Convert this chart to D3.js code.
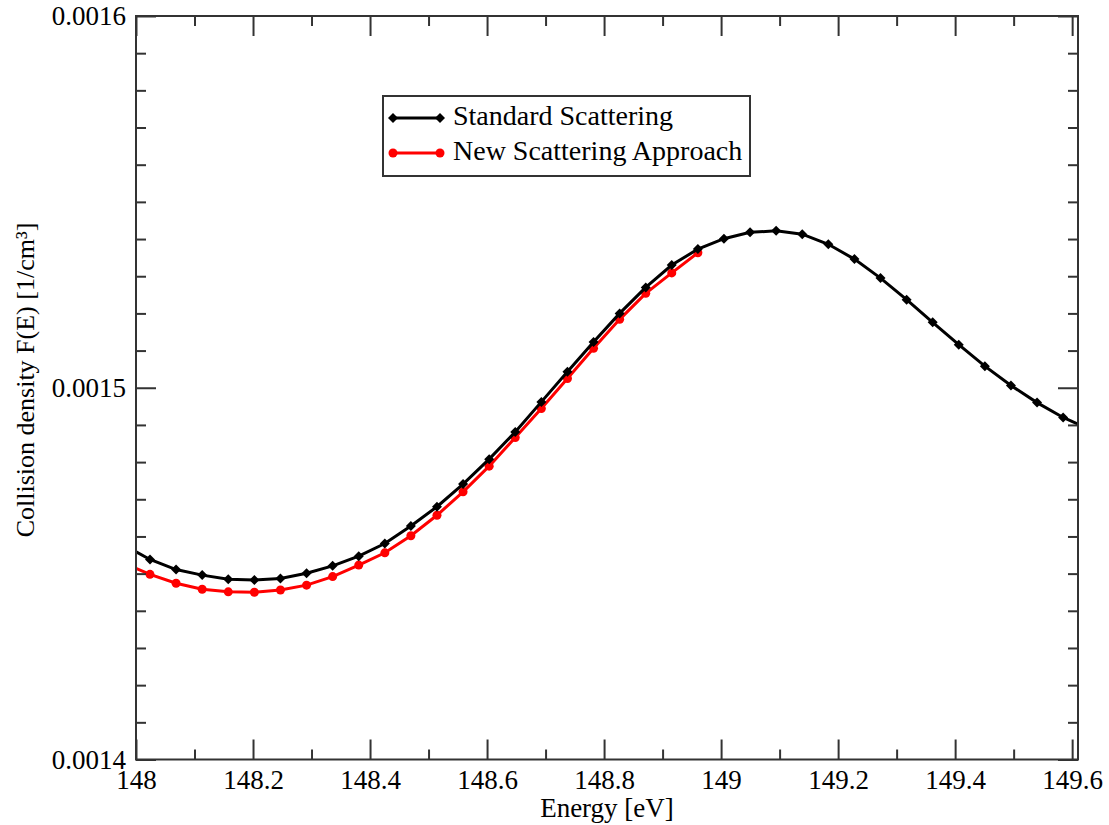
<!DOCTYPE html>
<html>
<head>
<meta charset="utf-8">
<script src="https://cdn.jsdelivr.net/npm/d3@7"></script>
<style>
  body { margin: 0; background: #fff; }
  svg text { font-family: "Liberation Serif", "Times New Roman", Times, "DejaVu Serif", serif !important; fill: #000; }
</style>
</head>
<body>
<div id="graph"></div>
<script>
var svgWidth = 1109;
var svgHeight = 825;

// energies of the standard run [eV]
var energyStd = [147.9793, 148.0239, 148.0685, 148.1131, 148.1577, 148.2023, 148.2469, 148.2915,
  148.3361, 148.3807, 148.4253, 148.4698, 148.5144, 148.5590, 148.6036, 148.6482, 148.6928,
  148.7374, 148.7820, 148.8266, 148.8712, 148.9157, 148.9603, 149.0049, 149.0495, 149.0941,
  149.1387, 149.1833, 149.2279, 149.2725, 149.3171, 149.3616, 149.4062, 149.4508, 149.4954,
  149.5400, 149.5846, 149.6292];

var densityStd = [0.0014577, 0.0014538, 0.0014511, 0.0014496, 0.0014485, 0.0014483, 0.0014487,
  0.0014501, 0.0014521, 0.0014547, 0.0014581, 0.0014628, 0.0014680, 0.0014741, 0.0014808,
  0.0014881, 0.0014962, 0.0015043, 0.0015123, 0.0015200, 0.0015270, 0.0015330, 0.0015373,
  0.0015401, 0.0015418, 0.0015422, 0.0015413, 0.0015386, 0.0015346, 0.0015295, 0.0015237,
  0.0015176, 0.0015116, 0.0015058, 0.0015006, 0.0014960, 0.0014920, 0.0014889];

// new approach only goes up to ~148.96 eV
var energyNew = [147.9793, 148.0239, 148.0685, 148.1131, 148.1577, 148.2023, 148.2469, 148.2915,
  148.3361, 148.3807, 148.4253, 148.4698, 148.5144, 148.5590, 148.6036, 148.6482, 148.6928,
  148.7374, 148.7820, 148.8266, 148.8712, 148.9157, 148.9603];

var densityNew = [0.0014528, 0.0014498, 0.0014474, 0.0014458, 0.0014451, 0.0014450, 0.0014456,
  0.0014469, 0.0014492, 0.0014523, 0.0014556, 0.0014602, 0.0014657, 0.0014720, 0.0014789,
  0.0014866, 0.0014944, 0.0015025, 0.0015106, 0.0015184, 0.0015254, 0.0015309, 0.0015363];

var xMajor = [148, 148.2, 148.4, 148.6, 148.8, 149, 149.2, 149.4, 149.6];
var xMinor = [148.1, 148.3, 148.5, 148.7, 148.9, 149.1, 149.3, 149.5];
var yMajor = [0.0014, 0.0015, 0.0016];
var yMinor = [0.00141, 0.00142, 0.00143, 0.00144, 0.00145, 0.00146, 0.00147, 0.00148, 0.00149,
  0.00151, 0.00152, 0.00153, 0.00154, 0.00155, 0.00156, 0.00157, 0.00158, 0.00159];

var seriesNames = ["Standard Scattering", "New Scattering Approach"];
var seriesColors = ["#000000", "#ff0000"];

var margin = { top: 16, right: 31, bottom: 65.5, left: 136 };
var width = svgWidth - margin.left - margin.right;
var height = svgHeight - margin.top - margin.bottom;

var svg = d3.select("#graph")
  .append("svg")
  .attr("width", svgWidth)
  .attr("height", svgHeight);

var chartGroup = svg.append("g")
  .attr("transform", `translate(${margin.left}, ${margin.top})`);

var x = d3.scaleLinear().domain([148, 149.61]).range([0, width]);
var y = d3.scaleLinear().domain([0.0014, 0.0016]).range([height, 0]);

svg.append("defs").append("clipPath")
  .attr("id", "plotclip")
  .append("rect")
  .attr("width", width)
  .attr("height", height);

// diamond marker (square turned 45deg)
function diamond(r) {
  return `M0,${-r}L${r},0L0,${r}L${-r},0Z`;
}

var line = d3.line()
  .x(d => x(d[0]))
  .y(d => y(d[1]));

var stdData = energyStd.map((e, i) => [e, densityStd[i]]);
var newData = energyNew.map((e, i) => [e, densityNew[i]]);

var plot = chartGroup.append("g").attr("clip-path", "url(#plotclip)");

// red first, black on top
plot.append("path")
  .datum(newData)
  .attr("d", line)
  .attr("fill", "none")
  .attr("stroke", seriesColors[1])
  .attr("stroke-width", 3);

plot.selectAll(".newpt")
  .data(newData)
  .enter()
  .append("circle")
  .attr("class", "newpt")
  .attr("cx", d => x(d[0]))
  .attr("cy", d => y(d[1]))
  .attr("r", 4.5)
  .attr("fill", seriesColors[1]);

plot.append("path")
  .datum(stdData)
  .attr("d", line)
  .attr("fill", "none")
  .attr("stroke", seriesColors[0])
  .attr("stroke-width", 3);

plot.selectAll(".stdpt")
  .data(stdData)
  .enter()
  .append("path")
  .attr("class", "stdpt")
  .attr("transform", d => `translate(${x(d[0])},${y(d[1])})`)
  .attr("d", diamond(5))
  .attr("fill", seriesColors[0]);

// axes: ticks inward on all four sides
var axisColor = "#333";

function styleAxis(g) {
  g.attr("font-family", null);
  g.select(".domain").remove();
  g.selectAll("line").attr("stroke", axisColor).attr("stroke-width", 2);
  g.selectAll("text").style("font-size", "27px").attr("fill", "#000");
}

chartGroup.append("g")
  .attr("transform", `translate(0, ${height})`)
  .call(d3.axisBottom(x).tickValues(xMajor).tickSize(-20).tickPadding(10).tickFormat(d => String(+d.toFixed(1))))
  .call(styleAxis);

chartGroup.append("g")
  .attr("transform", `translate(0, ${height})`)
  .call(d3.axisBottom(x).tickValues(xMinor).tickSize(-10).tickFormat(""))
  .call(styleAxis);

chartGroup.append("g")
  .call(d3.axisTop(x).tickValues(xMajor).tickSize(-20).tickFormat(""))
  .call(styleAxis);

chartGroup.append("g")
  .call(d3.axisTop(x).tickValues(xMinor).tickSize(-10).tickFormat(""))
  .call(styleAxis);

chartGroup.append("g")
  .call(d3.axisLeft(y).tickValues(yMajor).tickSize(-20).tickPadding(10).tickFormat(d => d.toFixed(4)))
  .call(styleAxis);

chartGroup.append("g")
  .call(d3.axisLeft(y).tickValues(yMinor).tickSize(-10).tickFormat(""))
  .call(styleAxis);

chartGroup.append("g")
  .attr("transform", `translate(${width}, 0)`)
  .call(d3.axisRight(y).tickValues(yMajor).tickSize(-20).tickFormat(""))
  .call(styleAxis);

chartGroup.append("g")
  .attr("transform", `translate(${width}, 0)`)
  .call(d3.axisRight(y).tickValues(yMinor).tickSize(-10).tickFormat(""))
  .call(styleAxis);

// frame
chartGroup.append("rect")
  .attr("width", width)
  .attr("height", height)
  .attr("fill", "none")
  .attr("stroke", axisColor)
  .attr("stroke-width", 2);

// axis titles
svg.append("text")
  .attr("text-anchor", "middle")
  .attr("x", 607)
  .attr("y", 817)
  .style("font-size", "27px")
  .text("Energy [eV]");

svg.append("text")
  .attr("text-anchor", "middle")
  .attr("transform", "translate(34, 380) rotate(-90)")
  .style("font-size", "26px")
  .text("Collision density F(E) [1/cm³]");

// legend
var legend = svg.append("g").attr("transform", "translate(383, 96)");

legend.append("rect")
  .attr("width", 367)
  .attr("height", 80)
  .attr("fill", "#fff")
  .attr("stroke", axisColor)
  .attr("stroke-width", 2);

var entries = legend.selectAll(".entry")
  .data(seriesNames)
  .enter()
  .append("g")
  .attr("class", "entry")
  .attr("transform", (d, i) => `translate(0, ${22 + i * 35})`);

entries.append("line")
  .attr("x1", 10)
  .attr("x2", 57)
  .attr("stroke", (d, i) => seriesColors[i])
  .attr("stroke-width", 3);

entries.each(function(d, i) {
  var g = d3.select(this);
  [10, 57].forEach(px => {
    if (i === 0) {
      g.append("path")
        .attr("transform", `translate(${px},0)`)
        .attr("d", diamond(5))
        .attr("fill", seriesColors[0]);
    } else {
      g.append("circle")
        .attr("cx", px)
        .attr("r", 4.5)
        .attr("fill", seriesColors[1]);
    }
  });
});

entries.append("text")
  .attr("x", 70)
  .attr("y", 7)
  .style("font-size", "28px")
  .text(d => d);
</script>
</body>
</html>
